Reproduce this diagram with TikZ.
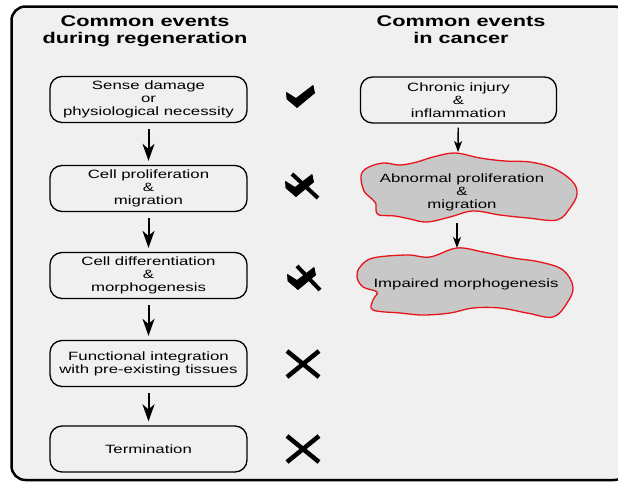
\documentclass[tikz,border=0pt]{standalone}
\usepackage{fontspec}
\setmainfont[FakeStretch=1.4]{Liberation Sans}
\usetikzlibrary{arrows.meta}
\definecolor{bgc}{HTML}{F0F0F0}
\definecolor{blobc}{HTML}{C8C8C8}
\definecolor{blobred}{HTML}{E8141C}
\begin{document}
\begin{tikzpicture}[x=1pt,y=-1pt,
  stepbox/.style={draw, line width=1.3pt, rounded corners=12pt, minimum width=197pt, minimum height=46pt, align=center, font=\fontsize{12}{13}\selectfont, inner sep=0pt},
  title/.style={align=center, font=\fontsize{15.5}{17.5}\selectfont\bfseries, inner sep=0pt},
  bigarr/.style={line width=2pt, -{Stealth[length=17pt,width=12pt,inset=5pt]}, shorten <=6pt, shorten >=4pt},
  smallarr/.style={line width=1.4pt, -{Stealth[length=11pt,width=8pt,inset=3pt]}},
  blob/.style={draw=blobred, fill=blobc, line width=1.3pt},
  blobtext/.style={align=center, font=\fontsize{12}{13}\selectfont, inner sep=0pt},
  xmark/.style={line width=4.5pt},
  checkmark/.style={fill=black, draw=black, line width=0.8pt, line join=round}]
\clip (0,0) rectangle (618,482);
\fill[white] (0,0) rectangle (618,482);
\draw[line width=2.5pt, rounded corners=14pt, fill=bgc] (11.5,6.5) rectangle (628,480);

% titles
\node[title] (tl) at (145,31.4) {Common events\\during regeneration};
\node[title] (tr) at (461,29.7) {Common events\\in cancer};

% left column
\node[stepbox] (r1) at (148.5,99.5) {Sense damage\\or\\physiological necessity};
\node[stepbox] (r2) at (148.5,188.5) {Cell proliferation\\\&\\migration};
\node[stepbox] (r3) at (148.5,275.5) {Cell differentiation\\\&\\morphogenesis};
\node[stepbox] (r4) at (148.5,363.5) {Functional integration\\with pre-existing tissues};
\node[stepbox] (r5) at (148.5,449) {Termination};
\draw[bigarr] (r1) -- (r2);
\draw[bigarr] (r2) -- (r3);
\draw[bigarr] (r3) -- (r4);
\draw[bigarr] (r4) -- (r5);

% marks
\filldraw[checkmark] (286.5,92.5) -- (296,98.5) -- (313,85.5) -- (314.5,93) -- (297,107.5) -- (287,99) -- cycle;
\begin{scope}[shift={(-1,89)}]
\filldraw[checkmark] (286.5,92.5) -- (296,98.5) -- (313,85.5) -- (314.5,93) -- (297,107.5) -- (287,99) -- cycle;
\end{scope}
\draw[line width=4pt] (292,174) -- (318,198);
\begin{scope}[shift={(1,182)}]
\filldraw[checkmark] (286.5,92.5) -- (296,98.5) -- (313,85.5) -- (314.5,93) -- (297,107.5) -- (287,99) -- cycle;
\end{scope}
\draw[line width=4pt] (297,266) -- (320,290);
\draw[xmark] (287,351) -- (319,377) (287,377) -- (319,351);
\draw[xmark] (287,436) -- (319,462) (287,462) -- (319,436);

% right column
\node[stepbox, minimum width=196pt] (c1) at (458.5,100) {Chronic injury\\\&\\inflammation};
\draw[blob] plot[smooth cycle, tension=0.6] coordinates {
 (361,176) (367,168) (383,163) (400,165) (417,162) (433,157) (455,153) (480,158) (505,161)
 (530,162) (553,168) (572,181) (577,194) (570,208) (557,220) (528,218) (500,215)
 (473,211) (450,217) (427,222) (410,219) (395,216) (379,215) (376,210) (376,204)
 (372,199) (364,191)};
\node[blobtext] (c2) at (462,192) {Abnormal proliferation\\\&\\migration};
\draw[blob] plot[smooth cycle, tension=0.6] coordinates {
 (360,267) (373,258) (407,255) (430,257) (457,248) (483,252) (513,258) (540,262)
 (563,270) (573,287) (567,303) (553,317) (527,313) (500,308) (473,308) (450,313)
 (423,315) (400,313) (373,310) (373,300) (377,292) (363,287) (357,277)};
\node[blobtext] (c3) at (466,284) {Impaired morphogenesis};
\coordinate (b1top) at (458,152);
\coordinate (b1bot) at (457,223);
\coordinate (b2top) at (457,248);
\draw[smallarr, shorten <=4pt] (c1) -- (b1top);
\draw[smallarr] (b1bot) -- (b2top);
\end{tikzpicture}
\end{document}
